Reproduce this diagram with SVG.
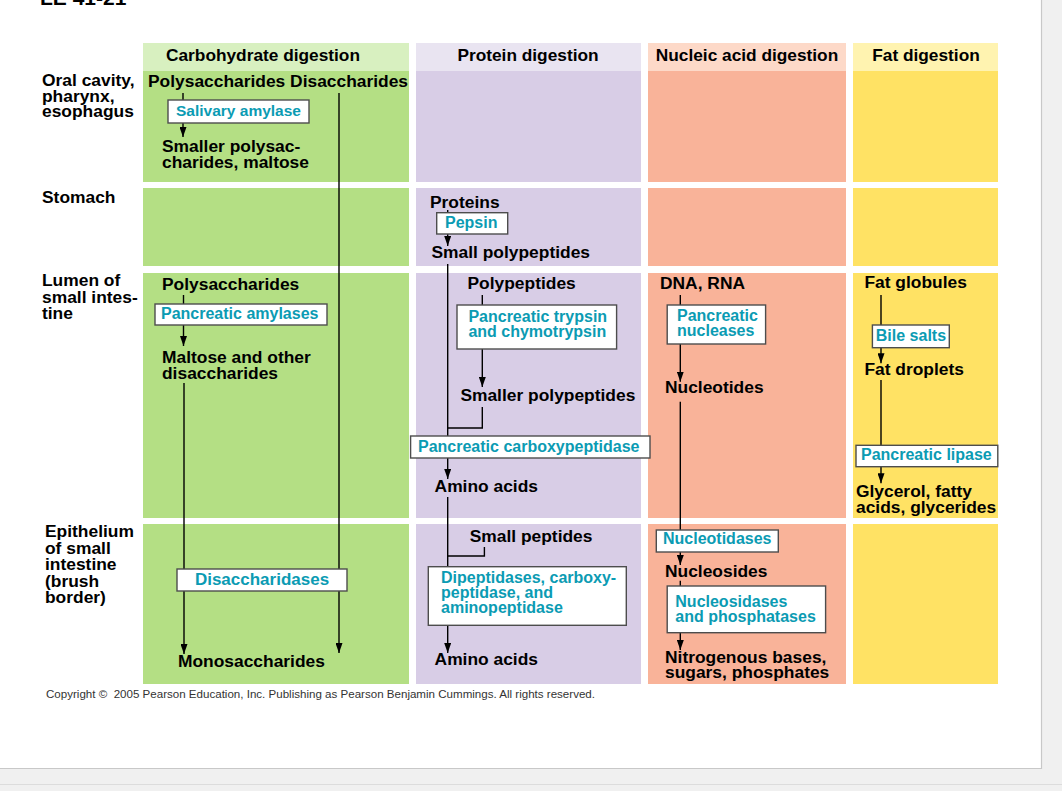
<svg xmlns="http://www.w3.org/2000/svg" width="1062" height="791" viewBox="0 0 1062 791">
<style>
text{font-family:"Liberation Sans",Arial,Helvetica,sans-serif;font-weight:bold}
.t{font-size:17.4px;fill:#000}
.h{font-size:17.3px;fill:#000;text-anchor:middle}
.e{font-size:16px;fill:#0b9bb3}
.c{font-size:11.5px;font-weight:normal;fill:#333}
.box{fill:#fff;stroke:#4d4d4d;stroke-width:1.4}
.ln{fill:none;stroke:#000;stroke-width:1.4}
.ar{marker-end:url(#ah)}
.cg{fill:#b4df84}.cgh{fill:#d8f0c0}
.pp{fill:#d8cde6}.pph{fill:#e9e4f1}
.nu{fill:#f9b399}.nuh{fill:#fdd9c8}
.ft{fill:#ffe264}.fth{fill:#fff3b0}
</style>
<defs>
<marker id="ah" viewBox="0 0 10 7" refX="10" refY="3.5" markerWidth="10" markerHeight="7" markerUnits="userSpaceOnUse" orient="auto">
<path d="M0,0 L10,3.5 L0,7 z" fill="#000"/>
</marker>
</defs>
<g id="page">
<rect x="0" y="0" width="1062" height="791" fill="#f0f0f0"/>
<rect x="0" y="0" width="1041" height="768" fill="#fff"/>
<path d="M1041.5,0 V768.5 H0" fill="none" stroke="#c8c8c8" stroke-width="1.2"/>
<path d="M0,784.5 H1062" fill="none" stroke="#dcdcdc" stroke-width="1"/>
<text x="40" y="5" style="font-size:21px">LE 41-21</text>
</g>
<g id="grid">
<rect class="cgh" x="143" y="43" width="266" height="28"/>
<rect class="pph" x="416" y="43" width="225" height="28"/>
<rect class="nuh" x="648" y="43" width="198" height="28"/>
<rect class="fth" x="853" y="43" width="145" height="28"/>
<rect class="cg" x="143" y="71" width="266" height="111"/>
<rect class="pp" x="416" y="71" width="225" height="111"/>
<rect class="nu" x="648" y="71" width="198" height="111"/>
<rect class="ft" x="853" y="71" width="145" height="111"/>
<rect class="cg" x="143" y="188" width="266" height="78"/>
<rect class="pp" x="416" y="188" width="225" height="78"/>
<rect class="nu" x="648" y="188" width="198" height="78"/>
<rect class="ft" x="853" y="188" width="145" height="78"/>
<rect class="cg" x="143" y="273" width="266" height="245"/>
<rect class="pp" x="416" y="273" width="225" height="245"/>
<rect class="nu" x="648" y="273" width="198" height="245"/>
<rect class="ft" x="853" y="273" width="145" height="245"/>
<rect class="cg" x="143" y="524" width="266" height="160"/>
<rect class="pp" x="416" y="524" width="225" height="160"/>
<rect class="nu" x="648" y="524" width="198" height="160"/>
<rect class="ft" x="853" y="524" width="145" height="160"/>
<text class="h" x="263" y="61">Carbohydrate digestion</text>
<text class="h" x="528" y="61">Protein digestion</text>
<text class="h" x="747" y="61">Nucleic acid digestion</text>
<text class="h" x="926" y="61">Fat digestion</text>
</g>
<g id="row-labels">
<text class="t" x="42" y="86">Oral cavity,</text>
<text class="t" x="42" y="101.5">pharynx,</text>
<text class="t" x="42" y="117">esophagus</text>
<text class="t" x="42" y="203">Stomach</text>
<text class="t" x="42" y="286">Lumen of</text>
<text class="t" x="42" y="302.5">small intes-</text>
<text class="t" x="42" y="318.5">tine</text>
<text class="t" x="45" y="537">Epithelium</text>
<text class="t" x="45" y="553.5">of small</text>
<text class="t" x="45" y="570">intestine</text>
<text class="t" x="45" y="586.5">(brush</text>
<text class="t" x="45" y="603">border)</text>
</g>
<g id="connectors">
<path class="ln ar" d="M183,93 V137"/>
<path class="ln ar" d="M339,93 V653"/>
<path class="ln ar" d="M183.5,295 V346"/>
<path class="ln ar" d="M184,383 V654"/>
<path class="ln ar" d="M447.7,210 V246"/>
<path class="ln ar" d="M447.7,264 V479"/>
<path class="ln ar" d="M482.3,295 V387"/>
<path class="ln" d="M482.3,407 V428 H447.7"/>
<path class="ln ar" d="M447.7,497 V653"/>
<path class="ln" d="M484.4,547 V556 H447.7"/>
<path class="ln ar" d="M680.3,295 V381.7"/>
<path class="ln ar" d="M680.3,401.7 V565"/>
<path class="ln ar" d="M680.3,580.7 V650"/>
<path class="ln ar" d="M881,295 V363.3"/>
<path class="ln ar" d="M881,380 V483.3"/>
</g>
<g id="carb-oral">
<text class="t" x="148" y="87">Polysaccharides Disaccharides</text>
<rect class="box" x="168" y="100" width="141" height="23"/>
<text class="e" x="176" y="116" style="font-size:15.5px">Salivary amylase</text>
<text class="t" x="162" y="152">Smaller polysac-</text>
<text class="t" x="162" y="168">charides, maltose</text>
</g>
<g id="carb-lumen">
<text class="t" x="162" y="289.5">Polysaccharides</text>
<rect class="box" x="155" y="304" width="172" height="21"/>
<text class="e" x="161" y="318.5">Pancreatic amylases</text>
<text class="t" x="162" y="363">Maltose and other</text>
<text class="t" x="162" y="379">disaccharides</text>
</g>
<g id="carb-epithelium">
<rect class="box" x="177" y="569" width="170" height="22"/>
<text class="e" x="262" y="585" text-anchor="middle" style="font-size:17px">Disaccharidases</text>
<text class="t" x="178" y="667">Monosaccharides</text>
</g>
<g id="protein-stomach">
<text class="t" x="430" y="208">Proteins</text>
<rect class="box" x="436.7" y="212.7" width="71" height="21.3"/>
<text class="e" x="445" y="228">Pepsin</text>
<text class="t" x="431.5" y="257.5">Small polypeptides</text>
</g>
<g id="protein-lumen">
<text class="t" x="467.5" y="289">Polypeptides</text>
<rect class="box" x="457" y="305" width="159.6" height="44"/>
<text class="e" x="468.4" y="321.7">Pancreatic trypsin</text>
<text class="e" x="468.4" y="337">and chymotrypsin</text>
<text class="t" x="460.4" y="400.7">Smaller polypeptides</text>
<rect class="box" x="410.6" y="436" width="239.4" height="22"/>
<text class="e" x="418" y="451.7">Pancreatic carboxypeptidase</text>
<text class="t" x="434.6" y="491.7">Amino acids</text>
</g>
<g id="protein-epithelium">
<text class="t" x="469.7" y="541.7">Small peptides</text>
<rect class="box" x="428.3" y="566.7" width="198" height="58.6"/>
<text class="e" x="441" y="582.7">Dipeptidases, carboxy-</text>
<text class="e" x="441" y="597.7">peptidase, and</text>
<text class="e" x="441" y="613.3">aminopeptidase</text>
<text class="t" x="434.6" y="665">Amino acids</text>
</g>
<g id="nucleic-lumen">
<text class="t" x="660" y="288.7">DNA, RNA</text>
<rect class="box" x="667.2" y="305" width="98.4" height="39"/>
<text class="e" x="677" y="321">Pancreatic</text>
<text class="e" x="677" y="336">nucleases</text>
<text class="t" x="665" y="393">Nucleotides</text>
</g>
<g id="nucleic-epithelium">
<rect class="box" x="656.3" y="530" width="122" height="22"/>
<text class="e" x="663" y="544.3">Nucleotidases</text>
<text class="t" x="665" y="577.3">Nucleosides</text>
<rect class="box" x="667.2" y="586" width="158.4" height="46.7"/>
<text class="e" x="675.3" y="606.7">Nucleosidases</text>
<text class="e" x="675.3" y="621.7">and phosphatases</text>
<text class="t" x="665" y="662.7">Nitrogenous bases,</text>
<text class="t" x="665" y="678.3">sugars, phosphates</text>
</g>
<g id="fat-lumen">
<text class="t" x="864.4" y="288.3">Fat globules</text>
<rect class="box" x="872.4" y="325" width="76.9" height="22.7"/>
<text class="e" x="875.8" y="340.7">Bile salts</text>
<text class="t" x="864.4" y="375">Fat droplets</text>
<rect class="box" x="856" y="445.3" width="141.8" height="21.4"/>
<text class="e" x="861" y="460">Pancreatic lipase</text>
<text class="t" x="856" y="496.7">Glycerol, fatty</text>
<text class="t" x="856" y="512.7">acids, glycerides</text>
</g>
<g id="footer">
<text class="c" x="46" y="698" textLength="549" lengthAdjust="spacingAndGlyphs">Copyright ©&#160; 2005 Pearson Education, Inc. Publishing as Pearson Benjamin Cummings. All rights reserved.</text>
</g>
</svg>
